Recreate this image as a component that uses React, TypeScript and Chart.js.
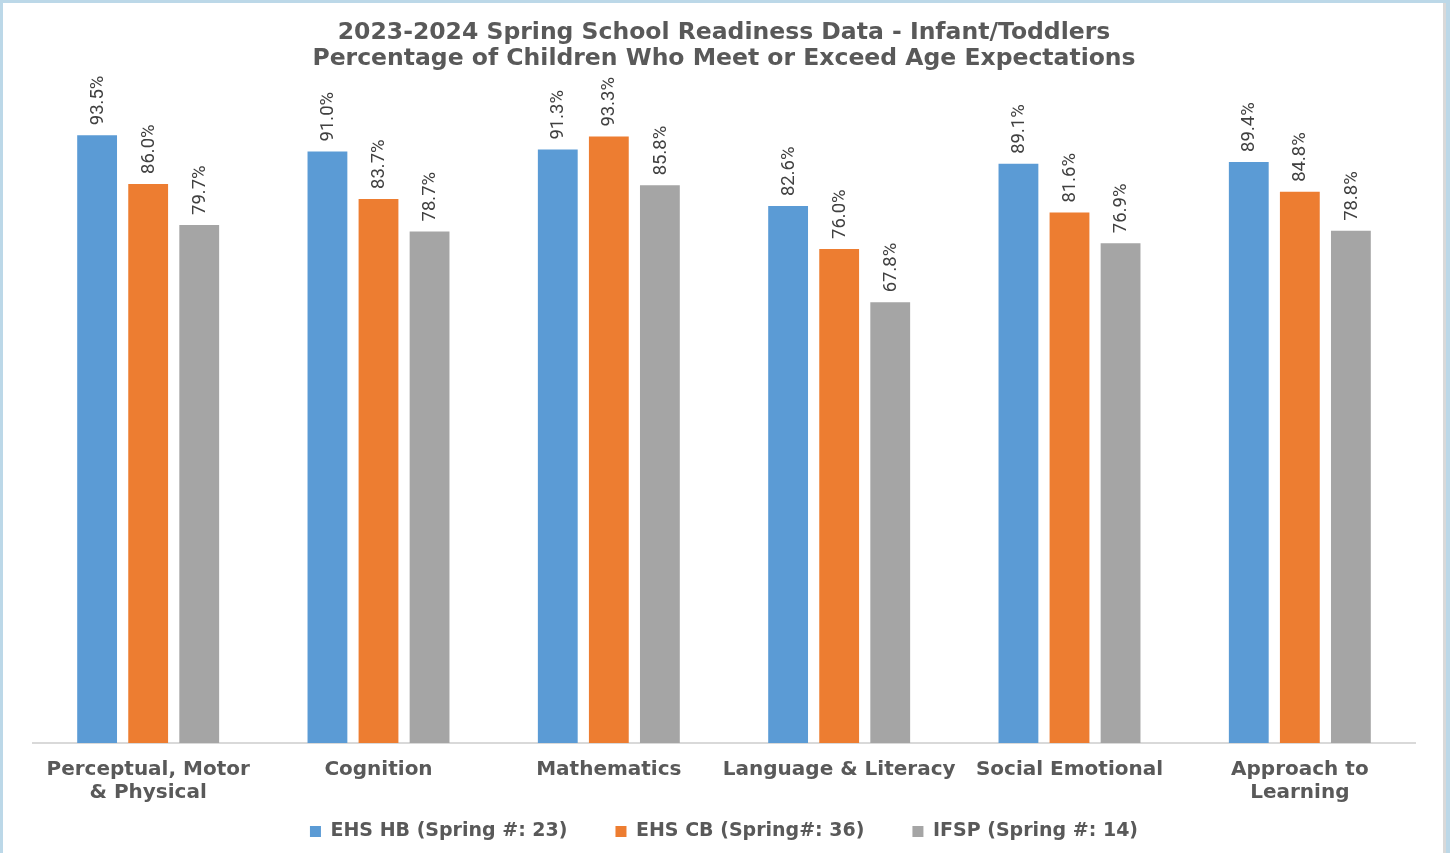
import React, { useEffect, useRef } from "react";
import { Chart, registerables } from "chart.js";

Chart.register(...registerables);

const titleLines = [
  "2023-2024 Spring School Readiness Data - Infant/Toddlers",
  "Percentage of Children Who Meet or Exceed Age Expectations",
];

const categories: string[][] = [
  ["Perceptual, Motor", "& Physical"],
  ["Cognition"],
  ["Mathematics"],
  ["Language & Literacy"],
  ["Social Emotional"],
  ["Approach to", "Learning"],
];

const seriesNames = [
  "EHS HB (Spring #: 23)",
  "EHS CB (Spring#: 36)",
  "IFSP (Spring #: 14)",
];

const ehsHB = [93.5, 91.0, 91.3, 82.6, 89.1, 89.4];
const ehsCB = [86.0, 83.7, 93.3, 76.0, 81.6, 84.8];
const ifsp = [79.7, 78.7, 85.8, 67.8, 76.9, 78.8];

const seriesColors = ["#5b9bd5", "#ed7d31", "#a5a5a5"];

const FONT = "'DejaVu Sans', sans-serif";

const valueLabelPlugin = {
  id: "valueLabels",
  afterDatasetsDraw(chart: any) {
    const ctx = chart.ctx;
    ctx.save();
    ctx.font = "18.5px Roboto, 'DejaVu Sans', sans-serif";
    ctx.fillStyle = "#404040";
    ctx.textAlign = "left";
    ctx.textBaseline = "middle";
    chart.data.datasets.forEach((ds: any, di: number) => {
      const meta = chart.getDatasetMeta(di);
      meta.data.forEach((el: any, i: number) => {
        const v = ds.data[i] as number;
        ctx.save();
        ctx.translate(el.x, el.y - 10);
        ctx.rotate(-Math.PI / 2);
        ctx.fillText(v.toFixed(1) + "%", 0, 1);
        ctx.restore();
      });
    });
    ctx.restore();
  },
};

export default function App() {
  const ref = useRef<HTMLCanvasElement | null>(null);

  useEffect(() => {
    document.body.style.margin = "0";
    const canvas = ref.current;
    if (!canvas) return;
    const chart = new Chart(canvas, {
      type: "bar",
      data: {
        labels: categories,
        datasets: [ehsHB, ehsCB, ifsp].map((d, i) => ({
          label: seriesNames[i],
          data: d,
          backgroundColor: seriesColors[i],
          borderWidth: 0,
          categoryPercentage: 0.665,
          barPercentage: 0.78,
        })),
      },
      options: {
        responsive: false,
        animation: false,
        devicePixelRatio: 1,
        layout: { padding: { left: 33, right: 35, top: 8, bottom: 2 } },
        scales: {
          x: {
            grid: { display: true, color: "rgba(0,0,0,0)", drawTicks: false },
            border: { display: true, color: "#d9d9d9", width: 2 },
            ticks: {
              color: "#595959",
              font: { family: FONT, size: 20, weight: "bold", lineHeight: "23px" },
              mirror: true,
              padding: -38.5,
              maxRotation: 0,
              autoSkip: false,
            },
            afterFit: (scale: any) => {
              scale.height = 31;
            },
          },
          y: {
            display: false,
            min: 0,
            max: 100,
          },
        },
        plugins: {
          title: {
            display: true,
            text: titleLines,
            color: "#595959",
            font: { family: FONT, size: 23.5, weight: "bold", lineHeight: "26px" },
            padding: { top: 12, bottom: 21 },
          },
          legend: {
            display: true,
            position: "bottom",
            labels: {
              boxWidth: 11,
              boxHeight: 11,
              padding: 48,
              color: "#595959",
              font: { family: FONT, size: 19, weight: "bold" },
            },
          },
          tooltip: { enabled: false },
        },
      },
      plugins: [valueLabelPlugin],
    } as any);
    return () => chart.destroy();
  }, []);

  return (
    <div
      style={{
        position: "relative",
        width: 1450,
        height: 853,
        background: "#ffffff",
        overflow: "hidden",
      }}
    >
      <canvas ref={ref} width={1450} height={853} style={{ position: "absolute", left: 0, top: 0 }} />
      <div style={{ position: "absolute", left: 0, top: 0, width: 1450, height: 3, background: "#bcd8e8" }} />
      <div style={{ position: "absolute", left: 0, top: 0, width: 3, height: 853, background: "#bcd8e8" }} />
      <div style={{ position: "absolute", left: 1443, top: 3, width: 3, height: 850, background: "#d9d9d9" }} />
      <div style={{ position: "absolute", left: 1446, top: 0, width: 4, height: 853, background: "#bcd8e8" }} />
    </div>
  );
}
